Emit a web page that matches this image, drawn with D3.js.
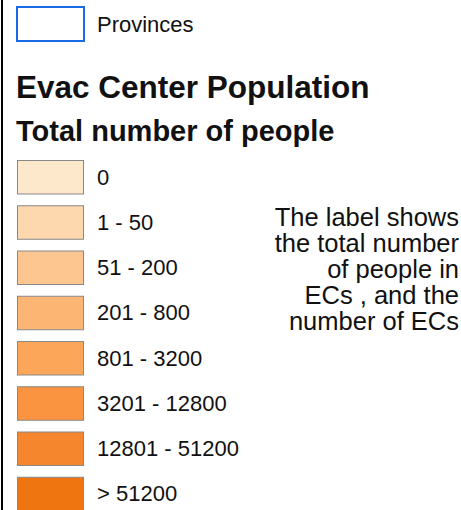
<!DOCTYPE html>
<html>
<head>
<meta charset="utf-8">
<script src="https://cdn.jsdelivr.net/npm/d3@7"></script>
<style>
  body { margin: 0; background: #fff; }
  svg text { font-family: "Liberation Sans", Arial, sans-serif; fill: #111; }
</style>
</head>
<body>
<div id="legend"></div>
<script>
var svgWidth = 461;
var svgHeight = 510;

// legend classes
var classLabels = ["0", "1 - 50", "51 - 200", "201 - 800", "801 - 3200", "3201 - 12800", "12801 - 51200", "> 51200"];
var classColors = ["#fee8cc", "#fdd8ae", "#fdc690", "#fdb574", "#fca659", "#fa9440", "#f5862d", "#ef7510"];
var noteLines = ["The label shows", "the total number", "of people in", "ECs , and the", "number of ECs"];

var svg = d3.select("#legend")
  .append("svg")
    .attr("width", svgWidth)
    .attr("height", svgHeight);

// frame edge on the left
svg.append("line")
  .attr("x1", 2).attr("x2", 2)
  .attr("y1", 0).attr("y2", svgHeight)
  .attr("stroke", "#000")
  .attr("stroke-width", 2);

// provinces entry
svg.append("rect")
  .attr("x", 17).attr("y", 7)
  .attr("width", 67).attr("height", 34)
  .attr("fill", "none")
  .attr("stroke", "#1a6ae6")
  .attr("stroke-width", 2);

svg.append("text")
  .attr("x", 97).attr("y", 32)
  .style("font-size", "22px")
  .text("Provinces");

// titles
svg.append("text")
  .attr("x", 16).attr("y", 98)
  .style("font-size", "31.5px")
  .style("font-weight", "bold")
  .text("Evac Center Population");

svg.append("text")
  .attr("x", 16).attr("y", 141)
  .style("font-size", "29px")
  .style("font-weight", "bold")
  .text("Total number of people");

// swatches
var y = d3.scaleBand()
  .domain(classLabels)
  .range([160.5, 160.5 + 8 * 45.25 - 11.75])
  .paddingInner(0.26)
  .paddingOuter(0);

var color = d3.scaleOrdinal()
  .domain(classLabels)
  .range(classColors);

var items = svg.selectAll(".item")
  .data(classLabels)
  .enter()
  .append("g")
  .attr("class", "item")
  .attr("transform", d => `translate(0, ${y(d)})`);

items.append("rect")
  .attr("x", 17.5)
  .attr("width", 66)
  .attr("height", y.bandwidth())
  .attr("fill", d => color(d))
  .attr("stroke", "#888")
  .attr("stroke-width", 1);

items.append("text")
  .attr("x", 97)
  .attr("y", y.bandwidth() / 2 + 7.5)
  .style("font-size", "22px")
  .text(d => d);

// side note
svg.append("g")
  .selectAll("text")
  .data(noteLines)
  .enter()
  .append("text")
  .attr("x", 459)
  .attr("y", (d, i) => 226 + i * 26)
  .attr("text-anchor", "end")
  .style("font-size", "25.5px")
  .text(d => d);
</script>
</body>
</html>
